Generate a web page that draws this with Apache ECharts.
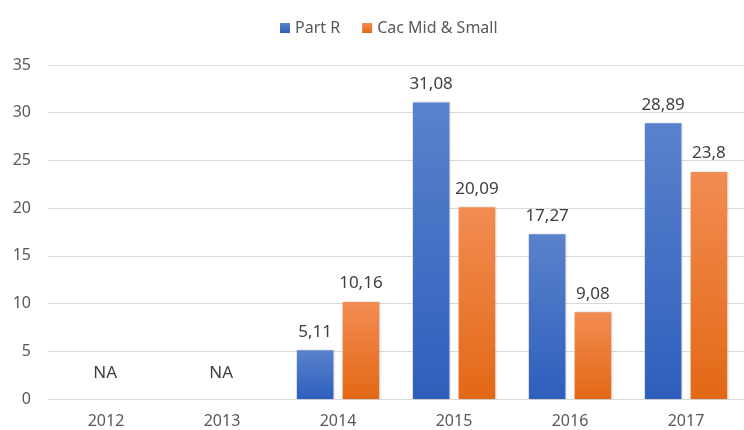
<!DOCTYPE html>
<html>
<head>
<meta charset="utf-8">
<script src="https://cdn.jsdelivr.net/npm/echarts@6/dist/echarts.min.js"></script>
<style>
  html, body { margin: 0; padding: 0; background: #fff; }
  #chart { width: 744px; height: 430px; }
</style>
</head>
<body>
<div id="chart"></div>
<script>
  // data
  var years = ['2012', '2013', '2014', '2015', '2016', '2017']
  var partR = [null, null, 5.11, 31.08, 17.27, 28.89]
  var cacMidSmall = [null, null, 10.16, 20.09, 9.08, 23.8]
  var yTicks = { min: 0, max: 35, step: 5 }

  var font = 'Noto Sans'
  var fmt = function (v) { return String(v).replace('.', ',') }

  // NA years get an empty blue bar with a centred 'NA' label
  function blueData() {
    return partR.map(function (v) {
      if (v === null) {
        return { value: 0, label: { formatter: 'NA', offset: [22, 0], distance: 17 } }
      }
      return v
    })
  }

  function grad(top, bottom) {
    return new echarts.graphic.LinearGradient(0, 0, 0, 1, [
      { offset: 0, color: top },
      { offset: 1, color: bottom }
    ])
  }

  var chart = echarts.init(document.getElementById('chart'))
  chart.setOption({
    animation: false,
    textStyle: { fontFamily: font },
    legend: {
      top: 15,
      left: 275,
      itemWidth: 10,
      itemHeight: 10,
      itemGap: 22,
      icon: 'rect',
      textStyle: { color: '#595959', fontSize: 16, fontFamily: font },
      data: ['Part R', 'Cac Mid & Small']
    },
    grid: { left: 48, right: 0, top: 65, bottom: 31 },
    xAxis: {
      type: 'category',
      data: years,
      axisLine: { lineStyle: { color: '#d9d9d9', width: 1 } },
      axisTick: { show: false },
      axisLabel: { color: '#595959', fontSize: 16, margin: 14 }
    },
    yAxis: {
      type: 'value',
      min: yTicks.min,
      max: yTicks.max,
      interval: yTicks.step,
      axisLine: { show: false },
      axisTick: { show: false },
      axisLabel: { color: '#595959', fontSize: 16, margin: 17 },
      splitLine: { lineStyle: { color: '#d9d9d9', width: 1 } }
    },
    series: [
      {
        name: 'Part R',
        type: 'bar',
        barGap: '25%',
        barCategoryGap: '29%',
        data: blueData(),
        itemStyle: {
          color: grad('#5a82cc', '#2e5fbd'),
          shadowColor: 'rgba(0,0,0,0.18)',
          shadowBlur: 2,
          shadowOffsetX: 1
        },
        label: {
          show: true,
          position: 'top',
          distance: 10,
          color: '#404040',
          fontSize: 17,
          formatter: function (p) { return fmt(p.value) }
        }
      },
      {
        name: 'Cac Mid & Small',
        type: 'bar',
        data: cacMidSmall.map(function (v) { return v === null ? '-' : v }),
        itemStyle: {
          color: grad('#f28c52', '#e36815'),
          shadowColor: 'rgba(0,0,0,0.18)',
          shadowBlur: 2,
          shadowOffsetX: 1
        },
        label: {
          show: true,
          position: 'top',
          distance: 10,
          color: '#404040',
          fontSize: 17,
          formatter: function (p) { return fmt(p.value) }
        }
      }
    ]
  })
</script>
</body>
</html>
